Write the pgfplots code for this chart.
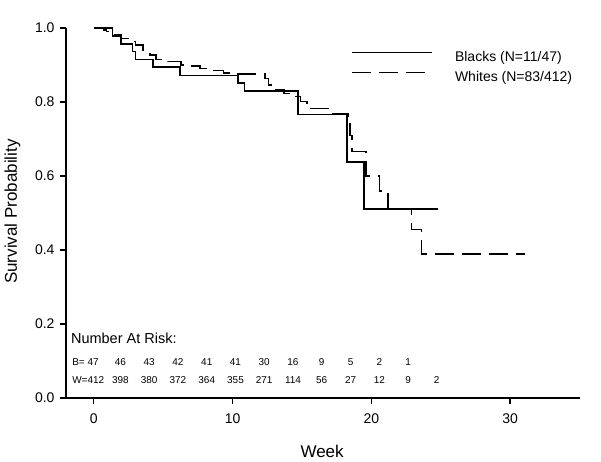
\documentclass[border=0pt]{standalone}
\usepackage{fontspec}
\setmainfont{Liberation Sans}
\usepackage{pgfplots}
\pgfplotsset{compat=1.18}
\begin{document}
\begin{tikzpicture}
\begin{axis}[
  at={(0,0)}, anchor=south west,
  scale only axis,
  width=513.6bp, height=370bp,
  xmin=-2, xmax=35, ymin=0, ymax=1,
  axis x line*=bottom, axis y line*=left,
  x axis line style={-, line width=1.4bp},
  y axis line style={-, line width=1.4bp},
  xtick={0,10,20,30}, ytick={0,0.2,0.4,0.6,0.8,1.0},
  yticklabel style={/pgf/number format/fixed, /pgf/number format/fixed zerofill, /pgf/number format/precision=1, xshift=-2bp},
  xticklabel style={yshift=-6bp},
  /pgf/number format/assume math mode=true,
  tick align=outside, major tick length=6bp,
  tick style={line width=1.4bp, black},
  ticklabel style={font=\fontsize{14bp}{16bp}\selectfont},
  clip=false,
  legend style={draw=none, fill=none, inner sep=0pt, outer sep=0pt,
    at={(axis cs:18.57,0.941)}, anchor=north west,
    row sep=4bp,
    font=\fontsize{14bp}{16bp}\selectfont,
    /tikz/every odd column/.style={column sep=20bp}},
  legend cell align=left,
  legend image code/.code={\draw[#1] (0bp,5bp) -- (80bp,5bp);},
]
\addplot[const plot, black, line width=1.5bp] coordinates {
(0,1) (1.35,0.979) (1.95,0.957) (2.8,0.936) (3.0,0.915) (4.25,0.894) (6.2,0.872)
(10.4,0.851) (10.85,0.830) (14.7,0.766) (18.25,0.638) (19.45,0.511) (24.8,0.511)};
\addlegendentry{Blacks (N=11/47)}
\addplot[const plot, black, line width=1.5bp, dash pattern=on 19bp off 8bp] coordinates {
(0,1) (0.7,0.995) (0.9,0.99) (1.45,0.981) (2.0,0.972) (2.5,0.963) (3.0,0.954)
(3.56,0.939) (4.04,0.927) (4.5,0.915) (5.36,0.909) (6.3,0.9) (7.05,0.897)
(7.65,0.891) (8.5,0.885) (9.34,0.879) (10.2,0.876) (12.35,0.864) (12.6,0.846)
(12.95,0.834) (13.7,0.823) (14.4,0.815) (14.9,0.801) (15.36,0.783) (16.9,0.767)
(18.3,0.745) (18.45,0.71) (18.6,0.666) (19.6,0.6) (20.6,0.559) (21.2,0.511)
(22.9,0.455) (23.6,0.389) (31.05,0.389)};
\addlegendentry{Whites (N=83/412)}
\node[rotate=90, font=\fontsize{17bp}{19bp}\selectfont] at (axis cs:-5.85,0.504) {Survival Probability};
\node[font=\fontsize{17bp}{19bp}\selectfont] at (axis cs:16.45,-0.145) {Week};
\node[anchor=west, font=\fontsize{14.5bp}{16bp}\selectfont, inner sep=0pt] at (axis cs:-1.65,0.162) {Number At Risk:};
\begingroup
\tikzset{every node/.append style={font=\fontsize{10.8bp}{12bp}\selectfont, inner sep=0pt}}
\node[anchor=west] at (axis cs:-1.8,0.098) {B= 47};
\node at (axis cs:1.92,0.098) {46};
\node at (axis cs:3.99,0.098) {43};
\node at (axis cs:6.06,0.098) {42};
\node at (axis cs:8.14,0.098) {41};
\node at (axis cs:10.21,0.098) {41};
\node at (axis cs:12.28,0.098) {30};
\node at (axis cs:14.35,0.098) {16};
\node at (axis cs:16.42,0.098) {9};
\node at (axis cs:18.50,0.098) {5};
\node at (axis cs:20.57,0.098) {2};
\node at (axis cs:22.64,0.098) {1};
\node[anchor=west] at (axis cs:-1.8,0.0486) {W=412};
\node at (axis cs:1.92,0.0486) {398};
\node at (axis cs:3.99,0.0486) {380};
\node at (axis cs:6.06,0.0486) {372};
\node at (axis cs:8.14,0.0486) {364};
\node at (axis cs:10.21,0.0486) {355};
\node at (axis cs:12.28,0.0486) {271};
\node at (axis cs:14.35,0.0486) {114};
\node at (axis cs:16.42,0.0486) {56};
\node at (axis cs:18.50,0.0486) {27};
\node at (axis cs:20.57,0.0486) {12};
\node at (axis cs:22.64,0.0486) {9};
\node at (axis cs:24.71,0.0486) {2};
\endgroup
\end{axis}
\pgfresetboundingbox
\useasboundingbox (-66bp,-64bp) rectangle (535bp,398bp);
\end{tikzpicture}
\end{document}
